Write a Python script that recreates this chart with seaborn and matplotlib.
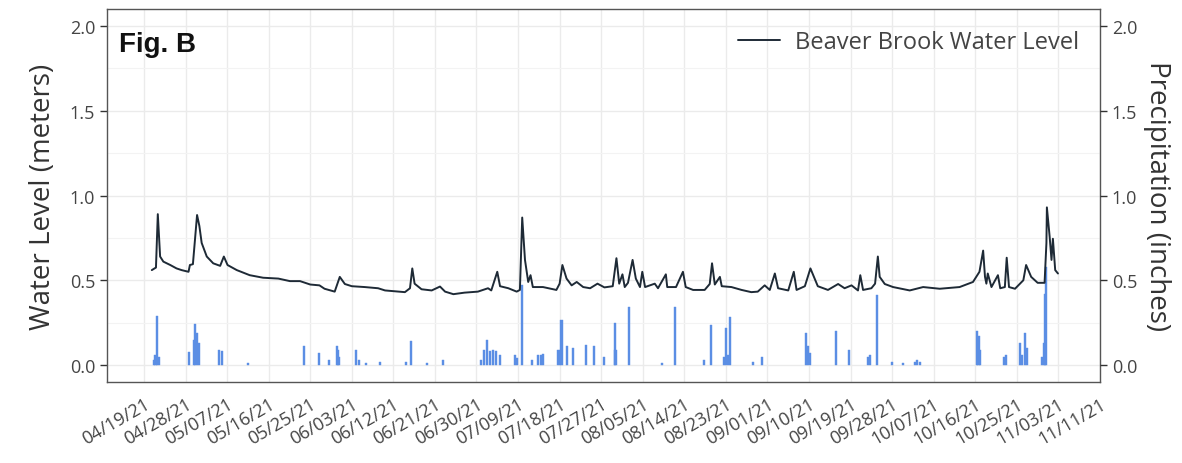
import numpy as np
import pandas as pd
import matplotlib
matplotlib.use("Agg")
import matplotlib.pyplot as plt
from matplotlib.ticker import MultipleLocator
import seaborn as sns

# ------------------------------------------------------
# Data
# days are counted from 04/19/21
# ------------------------------------------------------
start = pd.Timestamp("2021-04-19")

level_day = [1.7, 2.6, 3.0, 3.5, 4.2, 5.7, 7.05, 8.15, 9.65, 9.95, 10.6, 11.5, 12.0,
             12.5, 13.6, 15.0, 16.5, 17.3, 18.1, 20.1, 22.9, 25.8, 29.1, 31.6, 33.8,
             36.0, 38.0, 39.1, 41.3, 42.4, 43.5, 45.0, 47.8, 50.7, 52.2, 56.5, 57.6,
             58.1, 58.6, 60.1, 62.3, 64.1, 65.2, 67.0, 69.4, 72.3, 74.5, 75.2, 76.5,
             77.1, 78.9, 80.7, 81.4, 81.9, 82.5, 83.2, 83.7, 84.2, 86.4, 89.3, 90.0,
             90.6, 91.5, 92.6, 93.7, 95.1, 96.6, 98.2, 99.7, 101.5, 102.3, 102.9,
             103.6, 104.1, 104.8, 105.8, 106.5, 107.4, 107.9, 108.5, 110.6, 111.3,
             113.0, 113.3, 115.2, 116.7, 117.3, 118.9, 121.4, 122.5, 123.0, 123.6,
             124.7, 125.1, 127.2, 129.4, 131.5, 132.9, 134.4, 135.5, 136.6, 137.3,
             139.5, 140.7, 141.3, 143.1, 144.3, 144.9, 145.9, 148.1, 150.3, 151.7,
             153.2, 154.6, 155.1, 155.7, 157.5, 158.3, 158.9, 159.3, 160.4, 162.2,
             165.8, 168.7, 172.3, 176.6, 179.5, 180.9, 181.7, 182.1, 182.4, 182.7,
             183.5, 184.9, 185.4, 186.4, 186.8, 187.3, 188.6, 190.4, 191.0, 192.1,
             193.5, 195.0, 195.4, 195.5, 196.1, 196.5, 196.8, 197.3, 197.9]
level_m = [0.56, 0.575, 0.89, 0.64, 0.61, 0.59, 0.57, 0.56, 0.55, 0.59, 0.595, 0.885, 0.82,
           0.72, 0.64, 0.60, 0.585, 0.64, 0.59, 0.56, 0.53, 0.515, 0.51, 0.495, 0.495,
           0.475, 0.47, 0.45, 0.433, 0.52, 0.478, 0.465, 0.46, 0.453, 0.44, 0.43, 0.453,
           0.57, 0.48, 0.447, 0.44, 0.463, 0.433, 0.418, 0.427, 0.433, 0.453, 0.44, 0.55,
           0.465, 0.453, 0.433, 0.443, 0.87, 0.62, 0.49, 0.53, 0.46, 0.46, 0.443, 0.48,
           0.59, 0.51, 0.47, 0.49, 0.46, 0.453, 0.48, 0.458, 0.465, 0.63, 0.48,
           0.535, 0.46, 0.485, 0.62, 0.51, 0.46, 0.55, 0.46, 0.48, 0.453,
           0.535, 0.46, 0.46, 0.55, 0.46, 0.443, 0.443, 0.478, 0.60, 0.475,
           0.52, 0.465, 0.46, 0.443, 0.43, 0.433, 0.47, 0.443, 0.54, 0.453,
           0.44, 0.55, 0.443, 0.465, 0.57, 0.53, 0.465, 0.443, 0.478, 0.453,
           0.47, 0.44, 0.53, 0.443, 0.453, 0.48, 0.64, 0.52, 0.478, 0.46,
           0.44, 0.46, 0.45, 0.46, 0.49, 0.55, 0.675, 0.52, 0.48, 0.54,
           0.46, 0.53, 0.453, 0.46, 0.633, 0.46, 0.45, 0.50, 0.59, 0.52,
           0.485, 0.485, 0.72, 0.93, 0.757, 0.62, 0.745, 0.56, 0.54]

precip_day = [2.2, 2.5, 2.9, 3.2, 9.85, 10.8, 11.0, 11.5, 11.9, 16.3, 16.8, 22.6, 34.7,
              37.9, 40.0, 41.7, 42.0, 42.3, 46.0, 46.5, 48.0, 51.1, 56.8, 57.8, 61.2,
              64.8, 72.9, 73.6, 74.2, 74.9, 75.6, 76.3, 77.1, 80.3, 80.8, 81.8, 84.1,
              85.3, 86.0, 86.4, 89.7, 90.1, 90.4, 91.6, 92.9, 95.7, 97.4, 99.7, 101.9,
              102.1, 105.0, 112.1, 115.0, 121.3, 122.7, 125.6, 126.0, 126.4, 126.9,
              131.9, 133.9, 143.3, 143.7, 144.2, 149.8, 152.7, 156.7, 157.2, 158.7,
              162.0, 164.3, 166.9, 167.4, 168.0, 180.3, 180.7, 181.1, 186.2, 186.6,
              189.6, 190.2, 190.7, 191.1, 194.4, 194.8, 195.1, 195.4]
precip_in = [0.03, 0.06, 0.29, 0.05, 0.075, 0.15, 0.24, 0.19, 0.13, 0.09, 0.08, 0.012, 0.11,
             0.07, 0.03, 0.11, 0.09, 0.05, 0.09, 0.03, 0.012, 0.02, 0.02, 0.14, 0.012,
             0.03, 0.03, 0.09, 0.15, 0.085, 0.09, 0.08, 0.06, 0.06, 0.04, 0.47, 0.03,
             0.06, 0.06, 0.065, 0.09, 0.09, 0.267, 0.11, 0.10, 0.12, 0.11, 0.05, 0.247,
             0.09, 0.345, 0.012, 0.345, 0.03, 0.237, 0.05, 0.22, 0.06, 0.282,
             0.02, 0.05, 0.19, 0.11, 0.07, 0.198, 0.09, 0.05, 0.06, 0.414,
             0.02, 0.012, 0.02, 0.03, 0.02, 0.198, 0.17, 0.09, 0.05, 0.06,
             0.13, 0.06, 0.19, 0.10, 0.05, 0.13, 0.42, 0.58]

tick_labels = ["04/19/21", "04/28/21", "05/07/21", "05/16/21", "05/25/21", "06/03/21",
               "06/12/21", "06/21/21", "06/30/21", "07/09/21", "07/18/21", "07/27/21",
               "08/05/21", "08/14/21", "08/23/21", "09/01/21", "09/10/21", "09/19/21",
               "09/28/21", "10/07/21", "10/16/21", "10/25/21", "11/03/21", "11/11/21"]

df_level = pd.DataFrame({
    "date": start + pd.to_timedelta(level_day, unit="D"),
    "level": level_m,
})
df_precip = pd.DataFrame({
    "date": start + pd.to_timedelta(precip_day, unit="D"),
    "precip": precip_in,
})
tick_dates = [start + pd.Timedelta(days=9 * i) for i in range(len(tick_labels))]

# ------------------------------------------------------
# Style
# ------------------------------------------------------
sns.set_style("white")
plt.rcParams["font.family"] = ["Open Sans", "DejaVu Sans"]

line_col = "#1e2a36"
bar_col = "#5b8ee4"
grid_col = "#ebebeb"
text_col = "#444444"

fig, ax = plt.subplots(figsize=(11.82, 4.64), dpi=100)
fig.subplots_adjust(left=107 / 1182, right=1100 / 1182, top=1 - 10 / 464, bottom=1 - 383 / 464)

# precipitation bars (same 0-2 scale as the water level)
ax.bar(df_precip["date"], df_precip["precip"], width=0.45, color=bar_col,
       edgecolor=bar_col, linewidth=0.3, zorder=2)

sns.lineplot(data=df_level, x="date", y="level", ax=ax, color=line_col, linewidth=1.4,
             label="Beaver Brook Water Level", zorder=3)

ax.set_xlim(start - pd.Timedelta(days=8.0), start + pd.Timedelta(days=207.0))
ax.set_ylim(-0.1, 2.1)
ax.set_yticks([0.0, 0.5, 1.0, 1.5, 2.0])
ax.set_yticklabels(["0.0", "0.5", "1.0", "1.5", "2.0"])
ax.yaxis.set_minor_locator(MultipleLocator(0.25))
ax.set_xticks(tick_dates)
ax.set_xticklabels(tick_labels, rotation=30, ha="right", rotation_mode="anchor")

ax.grid(True, which="major", color=grid_col, linewidth=1.0, zorder=0)
ax.grid(True, which="minor", axis="y", color="#f3f3f3", linewidth=0.8, zorder=0)
ax.set_axisbelow(True)

ax.tick_params(axis="both", which="major", direction="out", length=5, width=1,
               color="#333333", labelcolor=text_col, labelsize=13)
ax.tick_params(axis="x", pad=4)
ax.tick_params(axis="y", which="minor", length=0)
for s in ax.spines.values():
    s.set_color("#555555")
    s.set_linewidth(1.0)

ax.set_xlabel("")
ax.set_ylabel("Water Level (meters)", fontsize=20, color="#333333", labelpad=9)

# secondary axis for precipitation
ax2 = ax.twinx()
ax2.set_ylim(ax.get_ylim())
ax2.set_yticks([0.0, 0.5, 1.0, 1.5, 2.0])
ax2.set_yticklabels(["0.0", "0.5", "1.0", "1.5", "2.0"])
ax2.tick_params(axis="y", direction="out", length=5, width=1, color="#333333",
                labelcolor=text_col, labelsize=13)
ax2.set_ylabel("Precipitation (inches)", fontsize=20, color="#333333", rotation=270,
               labelpad=24)
for s in ax2.spines.values():
    s.set_visible(False)

ax.text(0.012, 0.905, "Fig. B", transform=ax.transAxes, fontsize=20, fontweight="bold",
        family=["Liberation Sans", "DejaVu Sans"], color="#111111", ha="left", va="center")

leg = ax.legend(loc="upper right", frameon=False, fontsize=17, handlelength=1.8,
                handletextpad=0.6, borderaxespad=0.5)
for t in leg.get_texts():
    t.set_color(text_col)

fig.savefig("out.png", dpi=100)
